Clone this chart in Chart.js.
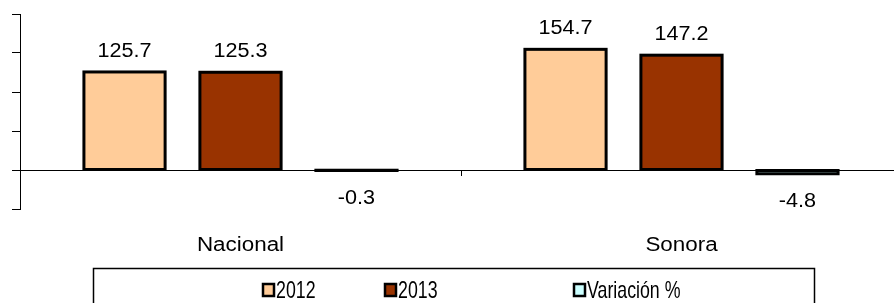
<!DOCTYPE html>
<html>
<head>
<meta charset="utf-8">
<script src="https://cdn.jsdelivr.net/npm/chart.js@4/dist/chart.umd.min.js"></script>
<style>
  html, body { margin: 0; padding: 0; background: #fff; overflow: hidden; }
  #wrap { position: relative; width: 910px; height: 303px; }
</style>
</head>
<body>
<div id="wrap"><canvas id="c" width="910" height="303"></canvas></div>
<script>
// ---- data ----
const categories = ["Nacional", "Sonora"];
const seriesNames = ["2012", "2013", "Variación %"];
const values2012 = [125.7, 154.7];
const values2013 = [125.3, 147.2];
const valuesVar = [-0.3, -4.8];
const yTicks = [-50, 0, 50, 100, 150, 200];

const colors = ["#FFCC99", "#993300", "#CCFFFF"];
const FONT = "'Liberation Sans', Arial, sans-serif";

function drawStretched(ctx, text, cx, y, size, sx, align) {
  ctx.save();
  ctx.font = size + "px " + FONT;
  ctx.textBaseline = "alphabetic";
  ctx.translate(cx, y);
  ctx.scale(sx, 1);
  ctx.textAlign = align || "center";
  ctx.fillStyle = "#000";
  ctx.fillText(text, 0, 0);
  ctx.restore();
}

const barOutline = {
  id: "barOutline",
  afterDatasetsDraw(chart) {
    const ctx = chart.ctx;
    ctx.save();
    ctx.strokeStyle = "#000";
    ctx.lineWidth = 3;
    chart.data.datasets.forEach((ds, i) => {
      chart.getDatasetMeta(i).data.forEach((el) => {
        const top = Math.min(el.y, el.base), bot = Math.max(el.y, el.base);
        ctx.strokeRect(el.x - el.width / 2, top, el.width, Math.max(bot - top, 0.01));
      });
    });
    ctx.restore();
  }
};

const labelsPlugin = {
  id: "labelsPlugin",
  afterDraw(chart) {
    const ctx = chart.ctx;
    const xs = chart.scales.x, ys = chart.scales.y;
    const y0 = ys.getPixelForValue(0);
    ctx.save();
    ctx.strokeStyle = "#000";
    ctx.lineWidth = 1;
    for (let i = 0; i < categories.length - 1; i++) {
      const xm = Math.round((xs.getPixelForValue(i) + xs.getPixelForValue(i + 1)) / 2) + 0.5;
      ctx.beginPath();
      ctx.moveTo(xm, y0);
      ctx.lineTo(xm, y0 + 6);
      ctx.stroke();
    }
    ctx.restore();
    // data labels
    chart.data.datasets.forEach((ds, i) => {
      chart.getDatasetMeta(i).data.forEach((el, j) => {
        const v = ds.data[j];
        const txt = v.toFixed(1);
        if (v >= 0) drawStretched(ctx, txt, el.x, el.y - 15, 20, 1.08);
        else drawStretched(ctx, txt, el.x, Math.max(el.y, el.base) + 33, 20, 1.08);
      });
    });
    // category labels
    categories.forEach((c, i) => {
      drawStretched(ctx, c, xs.getPixelForValue(i), 251, 20, 1.12);
    });
    // legend
    ctx.save();
    ctx.strokeStyle = "#000";
    ctx.lineWidth = 1.5;
    ctx.strokeRect(93.5, 268.5, 721, 60);
    const legX = [263, 385, 574];
    chart.data.datasets.forEach((ds, i) => {
      ctx.fillStyle = ds.backgroundColor;
      ctx.lineWidth = 2.5;
      ctx.fillRect(legX[i], 284, 11, 12);
      ctx.strokeRect(legX[i], 284, 11, 12);
      drawStretched(ctx, ds.label, legX[i] + 13, 298, 24, 0.74, "left");
    });
    ctx.restore();
  }
};

new Chart(document.getElementById("c"), {
  type: "bar",
  data: {
    labels: categories,
    datasets: [
      { label: seriesNames[0], data: values2012, backgroundColor: colors[0] },
      { label: seriesNames[1], data: values2013, backgroundColor: colors[1] },
      { label: seriesNames[2], data: valuesVar, backgroundColor: colors[2] }
    ]
  },
  options: {
    responsive: false,
    animation: false,
    events: [],
    layout: { padding: { left: 0, right: 8, top: 14, bottom: 0 } },
    datasets: { bar: { borderWidth: 0, categoryPercentage: 0.789, barPercentage: 0.70 } },
    plugins: { legend: { display: false }, tooltip: { enabled: false } },
    scales: {
      x: {
        grid: { display: false },
        border: { display: false },
        ticks: { display: false },
        afterFit(s) { s.height = 94; }
      },
      y: {
        min: yTicks[0],
        max: yTicks[yTicks.length - 1],
        afterBuildTicks(s) { s.ticks = yTicks.map(v => ({ value: v })); },
        ticks: { display: false },
        grid: {
          drawOnChartArea: true,
          drawTicks: true,
          tickLength: 8,
          tickColor: "#000",
          color: (c) => (c.tick && c.tick.value === 0 ? "#000" : "rgba(0,0,0,0)"),
          lineWidth: 1
        },
        border: { display: true, color: "#000", width: 1 },
        afterFit(s) { s.width = 20; }
      }
    }
  },
  plugins: [barOutline, labelsPlugin]
});
</script>
</body>
</html>
